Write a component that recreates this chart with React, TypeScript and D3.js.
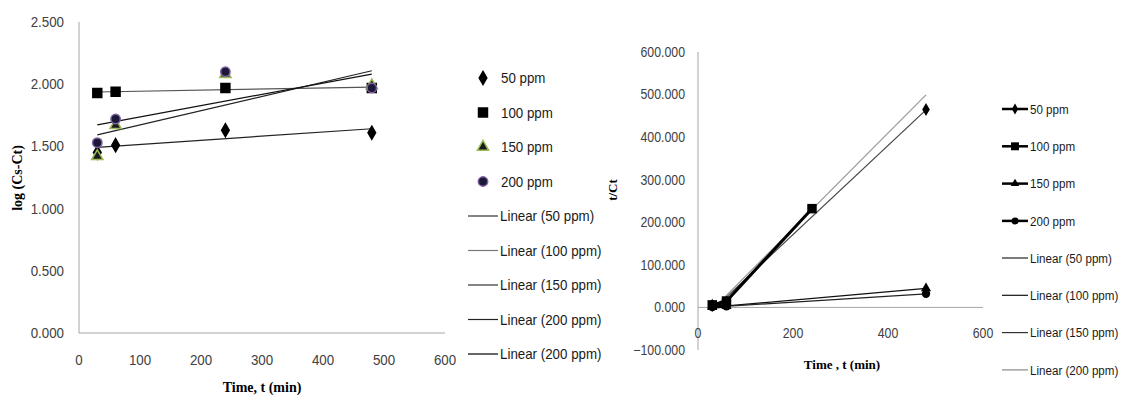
import React from 'react';
import * as d3 from 'd3';

// sampling times (min)
const times = [30, 60, 240, 480];
const seriesNames = ['50 ppm', '100 ppm', '150 ppm', '200 ppm'];

// left chart: log (Cs-Ct)
const log50 = [1.45, 1.51, 1.63, 1.61];
const log100 = [1.93, 1.94, 1.97, 1.97];
const log150 = [1.42, 1.67, 2.08, 1.99];
const log200 = [1.53, 1.72, 2.10, 1.97];

// right chart: t/Ct (null = empty cell, line breaks)
const tc50 = [5, 12, null, 465];
const tc100 = [6, 15, 232, null];
const tc150 = [1, 3, null, 45];
const tc200 = [1, 2.5, null, 32];

const leftYTicks = [0, 0.5, 1, 1.5, 2, 2.5];
const leftXTicks = [0, 100, 200, 300, 400, 500, 600];
const rightYTicks = [-100, 0, 100, 200, 300, 400, 500, 600];
const rightXTicks = [0, 200, 400, 600];

const leftTrendNames = ['Linear (50 ppm)', 'Linear (100 ppm)', 'Linear (150 ppm)', 'Linear (200 ppm)', 'Linear (200 ppm)'];
const rightTrendNames = ['Linear (50 ppm)', 'Linear (100 ppm)', 'Linear (150 ppm)', 'Linear (200 ppm)'];

const symbols = [d3.symbolDiamond, d3.symbolSquare, d3.symbolTriangle, d3.symbolCircle];

const numFont = "'Liberation Sans', Arial, sans-serif";
const titleFont = "'Liberation Serif', 'DejaVu Serif', serif";

// least squares fit over the non-empty points
function fit(xs: number[], ys: (number | null)[]) {
  const pts = xs.map((x, i) => [x, ys[i]] as [number, number | null]).filter(p => p[1] != null) as [number, number][];
  const mx = d3.mean(pts, p => p[0])!;
  const my = d3.mean(pts, p => p[1])!;
  const sxy = d3.sum(pts, p => (p[0] - mx) * (p[1] - my));
  const sxx = d3.sum(pts, p => (p[0] - mx) ** 2);
  const slope = sxy / sxx;
  return (x: number) => my + slope * (x - mx);
}

const sym = (i: number, size: number) => d3.symbol().type(symbols[i]).size(size)()!;

// narrow text (the original uses a condensed font)
function T({ x, y, size, anchor = 'start', sx = 0.92, fill = '#404040', children }: any) {
  return (
    <g transform={`translate(${x},${y}) scale(${sx},1)`}>
      <text dy="0.35em" textAnchor={anchor} fontSize={size} fill={fill} fontFamily={numFont}>{children}</text>
    </g>
  );
}

function LeftChart() {
  const x = d3.scaleLinear().domain([0, 600]).range([79, 445]);
  const y = d3.scaleLinear().domain([0, 2.5]).range([333, 22]);
  const data = [log50, log100, log150, log200];
  const fills = ['#000', '#000', '#1a1a1a', '#1c1838'];
  const strokes = ['#000', '#000', '#9bbb59', '#8064a2'];
  const sizes = [50, 80, 55, 70];
  const trendColors = ['#222', '#555', '#222', '#111'];
  const tMin = d3.min(times)!, tMax = d3.max(times)!;
  const legendColors = ['#333', '#777', '#333', '#222', '#000'];

  return (
    <g>
      <line x1={x(0)} x2={x(0)} y1={y(2.5)} y2={y(0)} stroke="#a6a6a6" />
      <line x1={x(0)} x2={x(600)} y1={y(0)} y2={y(0)} stroke="#a6a6a6" />
      {leftYTicks.map(t => (
        <T key={t} x={64} y={y(t)} anchor="end" size={14.5}>{d3.format('.3f')(t)}</T>
      ))}
      {leftXTicks.map(t => (
        <T key={t} x={x(t)} y={360} anchor="middle" size={14.5}>{t}</T>
      ))}
      <text x={262} y={392} textAnchor="middle" fontSize={14} fontWeight="bold" fontFamily={titleFont}>Time, t (min)</text>
      <text transform="translate(22,178) rotate(-90)" textAnchor="middle" fontSize={14} fontWeight="bold" fontFamily={titleFont}>log (Cs-Ct)</text>

      {data.map((vals, i) => {
        const f = fit(times, vals);
        return <line key={'t' + i} x1={x(tMin)} y1={y(f(tMin))} x2={x(tMax)} y2={y(f(tMax))} stroke={trendColors[i]} strokeWidth={1.2} />;
      })}
      {data.map((vals, i) => (
        <g key={'s' + i}>
          {vals.map((v, j) => (
            <path key={j} d={sym(i, sizes[i])} transform={`translate(${x(times[j])},${y(v)})`} fill={fills[i]} stroke={strokes[i]} strokeWidth={1.5} />
          ))}
        </g>
      ))}

      {seriesNames.map((n, i) => (
        <g key={n} transform={`translate(0,${78 + i * 34.5})`}>
          <path d={sym(i, sizes[i])} transform="translate(483,0)" fill={fills[i]} stroke={strokes[i]} strokeWidth={1.5} />
          <T x={501} y={0} size={14.5} fill="#1a1a1a">{n}</T>
        </g>
      ))}
      {leftTrendNames.map((n, i) => (
        <g key={i} transform={`translate(0,${216 + i * 34.5})`}>
          <line x1={468} x2={498} stroke={legendColors[i]} strokeWidth={1.2} />
          <T x={500} y={0} size={14.5} fill="#1a1a1a">{n}</T>
        </g>
      ))}
    </g>
  );
}

function RightChart() {
  const x = d3.scaleLinear().domain([0, 600]).range([698, 983]);
  const y = d3.scaleLinear().domain([-100, 600]).range([350, 52]);
  const data = [tc50, tc100, tc150, tc200];
  const sizes = [50, 90, 45, 55];
  const trendColors = ['#444', '#999', '#111', '#222'];
  const legendColors = ['#222', '#111', '#333', '#888'];
  const tMin = d3.min(times)!, tMax = d3.max(times)!;
  const line = d3.line<[number, number | null]>()
    .defined(d => d[1] != null)
    .x(d => x(d[0]))
    .y(d => y(d[1] as number));

  return (
    <g>
      <line x1={x(0)} x2={x(0)} y1={y(600)} y2={y(-100)} stroke="#a6a6a6" />
      <line x1={x(0)} x2={x(600)} y1={y(0)} y2={y(0)} stroke="#a6a6a6" />
      {rightYTicks.map(t => (
        <T key={t} x={685} y={y(t)} anchor="end" size={14} sx={0.88}>{d3.format('.3f')(t)}</T>
      ))}
      {rightXTicks.map(t => (
        <T key={t} x={x(t)} y={333} anchor="middle" size={14} sx={0.88}>{t}</T>
      ))}
      <text x={842} y={369} textAnchor="middle" fontSize={13} fontWeight="bold" fontFamily={titleFont}>Time , t (min)</text>
      <text transform="translate(617,190) rotate(-90)" textAnchor="middle" fontSize={13} fontWeight="bold" fontFamily={titleFont}>t/Ct</text>

      {data.map((vals, i) => {
        const f = fit(times, vals);
        return <line key={'t' + i} x1={x(tMin)} y1={y(f(tMin))} x2={x(tMax)} y2={y(f(tMax))} stroke={trendColors[i]} strokeWidth={1.2} />;
      })}
      {data.map((vals, i) => (
        <g key={'s' + i}>
          <path d={line(times.map((t, j) => [t, vals[j]]))!} fill="none" stroke="#000" strokeWidth={3} />
          {vals.map((v, j) => v == null ? null : (
            <path key={j} d={sym(i, sizes[i])} transform={`translate(${x(times[j])},${y(v)})`} fill="#000" />
          ))}
        </g>
      ))}

      {seriesNames.map((n, i) => (
        <g key={n} transform={`translate(0,${109 + i * 37.3})`}>
          <line x1={1002} x2={1028} stroke="#000" strokeWidth={2.5} />
          <path d={sym(i, sizes[i] * 0.7)} transform="translate(1015,0)" fill="#000" />
          <T x={1030} y={0} size={13.5} sx={0.86} fill="#1a1a1a">{n}</T>
        </g>
      ))}
      {rightTrendNames.map((n, i) => (
        <g key={i} transform={`translate(0,${258 + i * 37.3})`}>
          <line x1={1002} x2={1028} stroke={legendColors[i]} strokeWidth={1.2} />
          <T x={1030} y={0} size={13.5} sx={0.86} fill="#1a1a1a">{n}</T>
        </g>
      ))}
    </g>
  );
}

export default function App() {
  return (
    <svg width={1127} height={396} style={{ position: 'absolute', left: 0, top: 0, background: '#fff' }}>
      <rect width={1127} height={396} fill="#fff" />
      <LeftChart />
      <RightChart />
    </svg>
  );
}
